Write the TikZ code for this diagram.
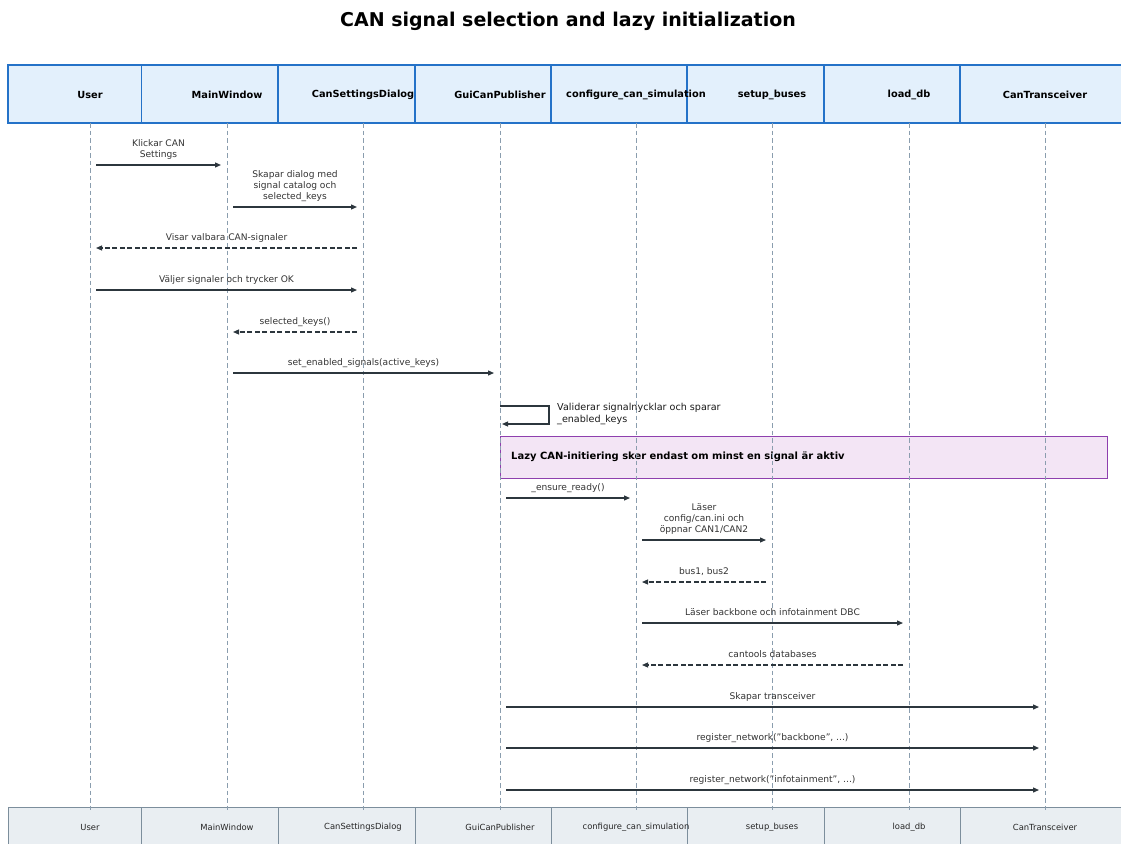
\documentclass[tikz,border=0pt]{standalone}
\usepackage{fontspec}
\setmainfont{DejaVu Sans}
\usetikzlibrary{arrows.meta}

\definecolor{headfill}{HTML}{E3F0FC}
\definecolor{headline}{HTML}{2472C8}
\definecolor{footfill}{HTML}{E9EEF2}
\definecolor{footline}{HTML}{7C8E9C}
\definecolor{lifecol}{HTML}{8A9DAE}
\definecolor{msgcol}{HTML}{2C363D}
\definecolor{notefill}{HTML}{F3E5F5}
\definecolor{noteline}{HTML}{8E3FAE}
\definecolor{labelcol}{HTML}{333333}

\tikzset{
  headbox/.style={fill=headfill, draw=headline, line width=1.4pt},
  footbox/.style={fill=footfill, draw=footline, line width=1pt},
  headtext/.style={font=\fontsize{9.8}{12}\selectfont\bfseries, text=black, inner sep=0pt},
  foottext/.style={font=\fontsize{8.4}{10}\selectfont, text=black!85, inner sep=0pt},
  lifeline/.style={draw=lifecol, line width=0.9pt, dash pattern=on 4.5pt off 3pt},
  msg/.style={draw=msgcol, line width=1.25pt, shorten <=6pt, shorten >=6pt,
    -{Triangle[length=6pt,width=5pt]}},
  ret/.style={msg, line width=1.15pt, dash pattern=on 5pt off 2.5pt},
  msglabel/.style={font=\fontsize{9.1}{10.8}\selectfont, text=labelcol,
    align=center, inner sep=0pt, anchor=south, yshift=4pt},
  notebox/.style={fill=notefill, draw=noteline, line width=1pt, inner sep=0pt,
    anchor=north west, minimum width=607pt, minimum height=42pt},
}

% call arrow between two lifelines: id, style, from, to, y, label
\newcommand\callmsg[6]{%
  \draw[#2] (top-#3 |- 0,#5) -- (top-#4 |- 0,#5)
    node[msglabel, pos=0.5] (lbl-#1) {#6\strut};
}

\begin{document}
\begin{tikzpicture}[x=1pt,y=-1pt]
\useasboundingbox (0,0) rectangle (1121,843);

\node[font=\fontsize{19}{22}\selectfont\bfseries, inner sep=0pt] (title) at (568,21)
  {CAN signal selection and lazy initialization};

% participant header and footer boxes
\foreach \name/\x/\l/\r/\txt in {
  user/90/8/141.5/User,
  main/227/141.5/278/MainWindow,
  dialog/363/278/415/CanSettingsDialog,
  gui/500/415/551/GuiCanPublisher,
  conf/636/551/687/configure\_can\_simulation,
  setup/772/687/824/setup\_buses,
  load/909/824/960/load\_db,
  trans/1045/960/1135/CanTransceiver}{
  \path[headbox] (\l,65) rectangle (\r,123);
  \path[footbox] (\l,807) rectangle (\r,850);
}
\foreach \name/\x/\txt in {
  user/90/User,
  main/227/MainWindow,
  dialog/363/CanSettingsDialog,
  gui/500/GuiCanPublisher,
  conf/636/configure\_can\_simulation,
  setup/772/setup\_buses,
  load/909/load\_db,
  trans/1045/CanTransceiver}{
  \node[headtext] (head-\name) at (\x,94.5) {\txt};
  \node[foottext] (foot-\name) at (\x,827.5) {\txt};
  \coordinate (top-\name) at (\x,123);
  \coordinate (bot-\name) at (\x,810);
}

% note spanning from GuiCanPublisher to the right
\node[notebox] (note) at (500,436) {};
\node[font=\fontsize{9.95}{12}\selectfont\bfseries, inner sep=0pt, anchor=west]
  (notetext) at (511,456.5) {Lazy CAN-initiering sker endast om minst en signal är aktiv};

% lifelines
\foreach \name in {user,main,dialog,gui,conf,setup,load,trans}{
  \draw[lifeline] (top-\name) -- (bot-\name);
}

% messages
\callmsg{m1}{msg}{user}{main}{165}{Klickar CAN\\Settings}
\callmsg{m2}{msg}{main}{dialog}{207}{Skapar dialog med\\signal catalog och\\selected\_keys}
\callmsg{m3}{ret}{dialog}{user}{248}{Visar valbara CAN-signaler}
\callmsg{m4}{msg}{user}{dialog}{290}{Väljer signaler och trycker OK}
\callmsg{m5}{ret}{dialog}{main}{332}{selected\_keys()}
\callmsg{m6}{msg}{main}{gui}{373}{set\_enabled\_signals(active\_keys)}

% self call on GuiCanPublisher
\draw[draw=msgcol, line width=1.1pt, -{Triangle[length=6pt,width=5pt]}]
  (top-gui |- 0,406) -- ++(49,0) -- ++(0,18) -- ++(-47,0);
\node[font=\fontsize{9.6}{11.2}\selectfont, text=black!90, align=left,
  inner sep=0pt, anchor=north west] (lbl-self) at (557,403.5)
  {Validerar signalnycklar och sparar\\\_enabled\_keys};

\callmsg{m9}{msg}{gui}{conf}{498}{\_ensure\_ready()}
\callmsg{m10}{msg}{conf}{setup}{540}{Läser\\config/can.ini och\\öppnar CAN1/CAN2}
\callmsg{m11}{ret}{setup}{conf}{582}{bus1, bus2}
\callmsg{m12}{msg}{conf}{load}{623}{Läser backbone och infotainment DBC}
\callmsg{m13}{ret}{load}{conf}{665}{cantools databases}
\callmsg{m14}{msg}{gui}{trans}{707}{Skapar transceiver}
\callmsg{m15}{msg}{gui}{trans}{748}{register\_network("backbone", ...)}
\callmsg{m16}{msg}{gui}{trans}{790}{register\_network("infotainment", ...)}
\end{tikzpicture}
\end{document}
